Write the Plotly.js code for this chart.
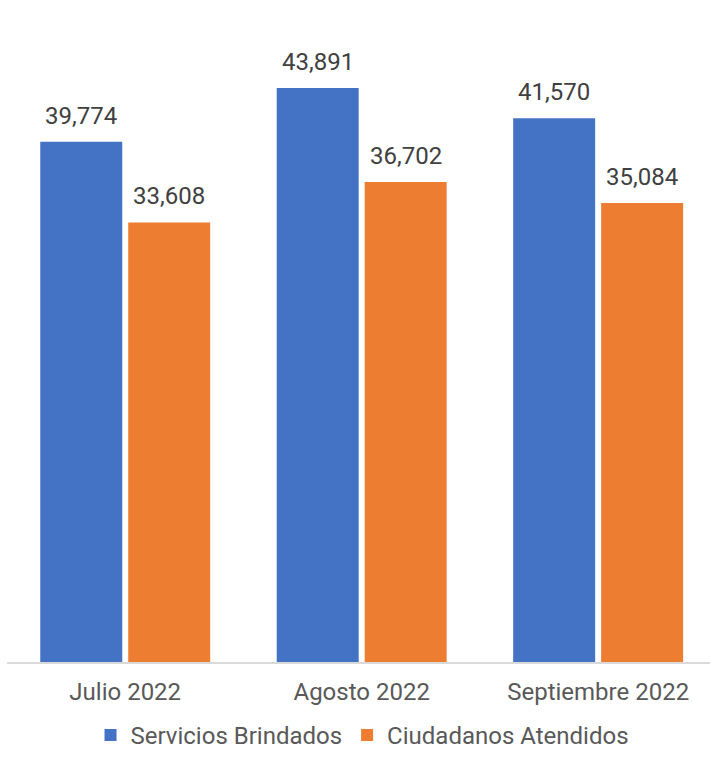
<!DOCTYPE html>
<html>
<head>
<meta charset="utf-8">
<script src="https://cdn.plot.ly/plotly-3.0.1.min.js"></script>
<style>html,body{margin:0;padding:0;background:#fff;}#chart{width:710px;height:758px;}</style>
</head>
<body>
<div id="chart"></div>
<script>
var categories = ["Julio 2022", "Agosto 2022", "Septiembre 2022"];
var seriesNames = ["Servicios Brindados", "Ciudadanos Atendidos"];
var servicios = [39774, 43891, 41570];
var ciudadanos = [33608, 36702, 35084];
var colors = ["#4472C4", "#ED7D31"];

var allSeries = [servicios, ciudadanos];
var traces = allSeries.map(function (vals, i) {
  return {
    type: "bar",
    name: seriesNames[i],
    x: categories,
    y: vals,
    marker: { color: colors[i] },
    hoverinfo: "skip"
  };
});

var annotations = [];
allSeries.forEach(function (vals, i) {
  vals.forEach(function (v, j) {
    annotations.push({
      x: categories[j], y: v, xref: "x", yref: "y",
      text: v.toLocaleString("en-US"),
      showarrow: false, xanchor: "center", yanchor: "middle",
      xshift: i === 0 ? -44 : 44, yshift: 26,
      font: { family: "Roboto", size: 24, color: "#404040" }
    });
  });
});

var layout = {
  width: 710, height: 758,
  margin: { l: 7, r: 0, t: 8, b: 96, autoexpand: false },
  paper_bgcolor: "#ffffff", plot_bgcolor: "#ffffff",
  barmode: "group", bargap: 0.256, bargroupgap: 0.068,
  font: { family: "Roboto", size: 22, color: "#595959" },
  xaxis: {
    type: "category", range: [-0.5, 2.473],
    showline: true, linecolor: "#D9D9D9", linewidth: 1.5,
    ticks: "", showgrid: false, zeroline: false, ticklabelstandoff: 8,
    tickfont: { family: "Roboto", size: 24, color: "#595959" }
  },
  yaxis: {
    range: [0, 50000], visible: false, showgrid: false, zeroline: false
  },
  showlegend: true,
  legend: {
    orientation: "h", xref: "container", yref: "container",
    x: 0.1275, xanchor: "left", y: -0.0135, yanchor: "bottom",
    font: { family: "Roboto", size: 24, color: "#595959" },
    itemwidth: 30, tracegroupgap: 0
  },
  annotations: annotations
};

Plotly.newPlot("chart", traces, layout, { displayModeBar: false, staticPlot: true });
</script>
</body>
</html>
